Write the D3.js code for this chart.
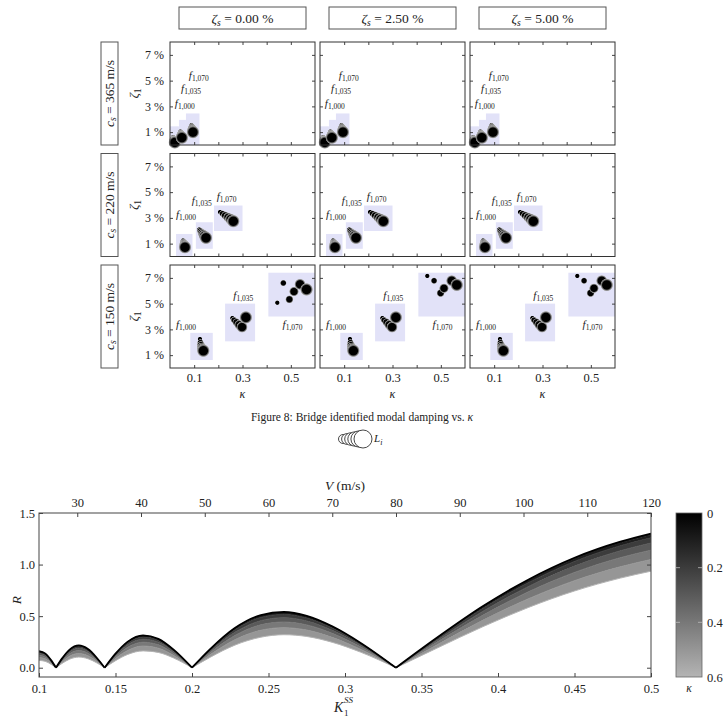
<!DOCTYPE html>
<html>
<head>
<meta charset="utf-8">
<script src="https://cdn.jsdelivr.net/npm/d3@7"></script>
<style>
  body { margin: 0; background: #fff; }
  svg text { font-family: "Liberation Serif", "Times New Roman", serif; fill: #222; }
</style>
</head>
<body>
<svg id="chart" width="724" height="717"></svg>
<script>
// ---- top figure: identified damping, one panel per (cs, zeta_s) ----
const dampingCols = ["0.00", "2.50", "5.00"];   // zeta_s in %
const speedRows = ["365", "220", "150"];         // cs in m/s
const freqLabels = ["1,000", "1,035", "1,070"];
const kappaMinor = [0.1, 0.2, 0.3, 0.4, 0.5];
const kappaTicks = [0.1, 0.3, 0.5];
const zetaTicks = [1, 3, 5, 7];

// bubbles: [kappa, zeta1 (%), L index]
const bubbles365 = [
  [[0.013, 0.62, 1], [0.014, 0.52, 2], [0.015, 0.44, 3], [0.016, 0.36, 4], [0.018, 0.28, 5], [0.02, 0.2, 6]],
  [[0.043, 1.05, 1], [0.044, 0.95, 2], [0.045, 0.85, 3], [0.046, 0.76, 4], [0.047, 0.66, 5], [0.049, 0.57, 6]],
  [[0.089, 1.55, 1], [0.09, 1.44, 2], [0.091, 1.34, 3], [0.092, 1.23, 4], [0.093, 1.12, 5], [0.095, 1.0, 6]]
];
const bubbles220 = [
  [[0.054, 1.25, 1], [0.055, 1.15, 2], [0.057, 1.04, 3], [0.058, 0.94, 4], [0.06, 0.83, 5], [0.062, 0.72, 6]],
  [[0.121, 2.1, 1], [0.125, 2.0, 2], [0.13, 1.87, 3], [0.136, 1.74, 4], [0.142, 1.6, 5], [0.149, 1.45, 6]],
  [[0.207, 3.45, 1], [0.217, 3.33, 2], [0.228, 3.19, 3], [0.24, 3.04, 4], [0.251, 2.9, 5], [0.262, 2.74, 6]]
];
const bubbles150 = [
  [[0.124, 2.25, 1], [0.126, 1.98, 2], [0.128, 1.78, 3], [0.131, 1.6, 4], [0.134, 1.45, 5], [0.138, 1.34, 6]],
  [[0.258, 3.88, 1], [0.265, 3.72, 2], [0.275, 3.55, 3], [0.286, 3.36, 4], [0.298, 3.18, 5], [0.314, 3.93, 6]],
  [[0.444, 5.07, 1], [0.469, 6.6, 2], [0.494, 5.33, 3], [0.513, 5.94, 4], [0.538, 6.5, 5], [0.565, 6.1, 6]]
];
// f1,070 at cs = 150 m/s for zeta_s = 2.5 % and 5 %
const bubbles150Damped = [[0.444, 7.15, 1], [0.472, 6.78, 2], [0.499, 5.82, 3], [0.513, 6.19, 4], [0.545, 6.78, 5], [0.566, 6.45, 6]];

// shaded boxes: [kappa0, kappa1, zeta0, zeta1]
const boxes365 = [[-0.05, 0.037, -1, 1.45], [0.037, 0.066, -1, 1.95], [0.066, 0.122, -1, 2.45]];
const boxes220 = [[0.025, 0.093, -1, 1.75], [0.107, 0.177, 0.6, 2.66], [0.182, 0.3, 1.98, 3.96]];
const boxes150 = [[0.084, 0.177, 0.62, 2.73], [0.228, 0.352, 2.07, 5.0], [0.407, 0.65, 4.0, 7.4]];

// frequency label anchors: [kappa, zeta1]
const labels365 = [[0.02, 3.2], [0.046, 4.35], [0.078, 5.36]];
const labels220 = [[0.025, 3.26], [0.09, 4.3], [0.193, 4.6]];
const labels150 = [[0.025, 3.34], [0.262, 5.6], [0.466, 3.34]];

const legendSizes = [1, 2, 3, 4, 5, 6];

// ---- bottom figure: R vs K1^SS for several kappa ----
const kSS = [0.100, 0.104, 0.108, 0.1111, 0.115, 0.120, 0.126, 0.132, 0.138, 0.1429,
             0.150, 0.158, 0.168, 0.178, 0.188, 0.200, 0.212, 0.228, 0.245, 0.260,
             0.275, 0.292, 0.310, 0.3333, 0.36, 0.39, 0.42, 0.45, 0.48, 0.50];
const kappaLevels = [0, 0.1, 0.2, 0.3, 0.4, 0.5, 0.6];
const rKappa00 = [0.160, 0.139, 0.071, 0, 0.088, 0.176, 0.216, 0.181, 0.092, 0, 0.136, 0.253, 0.314, 0.280, 0.175, 0, 0.183, 0.385, 0.510, 0.540, 0.503, 0.399, 0.243, 0, 0.290, 0.595, 0.856, 1.066, 1.222, 1.300];
const rKappa01 = [0.157, 0.137, 0.070, 0, 0.087, 0.173, 0.213, 0.178, 0.091, 0, 0.134, 0.249, 0.310, 0.276, 0.173, 0, 0.181, 0.380, 0.503, 0.534, 0.497, 0.394, 0.240, 0, 0.287, 0.589, 0.847, 1.056, 1.211, 1.290];
const rKappa02 = [0.150, 0.131, 0.067, 0, 0.083, 0.166, 0.203, 0.171, 0.087, 0, 0.129, 0.239, 0.297, 0.265, 0.166, 0, 0.174, 0.367, 0.487, 0.516, 0.481, 0.382, 0.233, 0, 0.279, 0.573, 0.826, 1.031, 1.183, 1.260];
const rKappa03 = [0.138, 0.120, 0.061, 0, 0.076, 0.153, 0.188, 0.158, 0.080, 0, 0.119, 0.222, 0.276, 0.247, 0.155, 0, 0.163, 0.343, 0.456, 0.485, 0.453, 0.360, 0.220, 0, 0.265, 0.546, 0.788, 0.985, 1.134, 1.209];
const rKappa04 = [0.121, 0.105, 0.054, 0, 0.067, 0.135, 0.166, 0.140, 0.071, 0, 0.106, 0.198, 0.247, 0.222, 0.139, 0, 0.147, 0.312, 0.416, 0.443, 0.415, 0.331, 0.203, 0, 0.246, 0.508, 0.737, 0.924, 1.067, 1.140];
const rKappa05 = [0.099, 0.086, 0.044, 0, 0.055, 0.112, 0.138, 0.116, 0.060, 0, 0.089, 0.167, 0.210, 0.189, 0.119, 0, 0.127, 0.271, 0.363, 0.388, 0.365, 0.292, 0.180, 0, 0.220, 0.459, 0.669, 0.844, 0.979, 1.049];
const rKappa06 = [0.071, 0.062, 0.032, 0, 0.041, 0.083, 0.103, 0.087, 0.045, 0, 0.068, 0.129, 0.163, 0.148, 0.094, 0, 0.102, 0.219, 0.296, 0.320, 0.303, 0.245, 0.152, 0, 0.189, 0.397, 0.585, 0.744, 0.869, 0.936];
const kTicks = [0.1, 0.15, 0.2, 0.25, 0.3, 0.35, 0.4, 0.45, 0.5];
const vTicks = [30, 40, 50, 60, 70, 80, 90, 100, 110, 120];
const rTicks = [0, 0.5, 1, 1.5];
const colorbarTicks = [0, 0.2, 0.4, 0.6];

const rowBubbles = [bubbles365, bubbles220, bubbles150];
const rowBoxes = [boxes365, boxes220, boxes150];
const rowLabels = [labels365, labels220, labels150];

const svg = d3.select("#chart");
const defs = svg.append("defs");

// bubble look: black core with soft grey rim
const grad = defs.append("radialGradient").attr("id", "bubble");
[["0%", "#000", 1], ["64%", "#000", 1], ["76%", "#5a5a5a", 1], ["90%", "#aaaaaa", 0.85], ["100%", "#cccccc", 0]]
  .forEach(([o, c, op]) => grad.append("stop").attr("offset", o).attr("stop-color", c).attr("stop-opacity", op));

const bubbleR = d3.scaleLinear().domain([1, 6]).range([2.6, 6.6]);

const colLeft = [170, 320, 470];
const rowTop = [42, 153.5, 265];
const panelW = 145, panelH = 103;

function styleAxis(g, size) {
  g.attr("font-size", size).attr("color", "#444");
  g.select(".domain").remove();
}

speedRows.forEach((cs, ri) => {
  const y0 = rowTop[ri];
  const mid = y0 + panelH / 2;

  // row label box
  svg.append("rect").attr("x", 101).attr("y", y0).attr("width", 17).attr("height", panelH)
    .attr("fill", "#fff").attr("stroke", "#555").attr("stroke-width", 1);
  const rl = svg.append("text").attr("transform", `translate(113.5,${mid}) rotate(-90)`)
    .attr("text-anchor", "middle").attr("font-size", 13.5);
  rl.append("tspan").attr("font-style", "italic").text("c");
  rl.append("tspan").attr("font-style", "italic").attr("font-size", 9.5).attr("dy", 2.5).text("s");
  rl.append("tspan").attr("dy", -2.5).text(` = ${cs} m/s`);

  // zeta1 axis title
  const zl = svg.append("text").attr("transform", `translate(138,${mid}) rotate(-90)`)
    .attr("text-anchor", "middle").attr("font-size", 13.5);
  zl.append("tspan").attr("font-style", "italic").text("ζ");
  zl.append("tspan").attr("font-size", 9.5).attr("dy", 3).text("1");

  dampingCols.forEach((zs, ci) => {
    const x0 = colLeft[ci];
    const kx = d3.scaleLinear().domain([0, 0.6]).range([x0, x0 + panelW]);
    const zy = d3.scaleLinear().domain([0, 8]).range([y0 + panelH, y0]);
    const g = svg.append("g");

    const cid = `clip${ri}${ci}`;
    defs.append("clipPath").attr("id", cid).append("rect")
      .attr("x", x0).attr("y", y0).attr("width", panelW).attr("height", panelH);

    g.append("g").attr("clip-path", `url(#${cid})`)
      .selectAll("rect").data(rowBoxes[ri]).join("rect")
      .attr("x", d => kx(d[0])).attr("y", d => zy(d[3]))
      .attr("width", d => kx(d[1]) - kx(d[0])).attr("height", d => zy(d[2]) - zy(d[3]))
      .attr("fill", "#e2e2f8");

    const groups = (ri === 2 && ci > 0)
      ? [rowBubbles[2][0], rowBubbles[2][1], bubbles150Damped]
      : rowBubbles[ri];

    groups.forEach(grp => {
      g.append("g").selectAll("circle").data(grp).join("circle")
        .attr("cx", d => kx(d[0])).attr("cy", d => zy(d[1]))
        .attr("r", d => bubbleR(d[2]))
        .attr("fill", "url(#bubble)");
    });

    rowLabels[ri].forEach((p, gi) => {
      const t = g.append("text").attr("x", kx(p[0])).attr("y", zy(p[1]) + 3).attr("font-size", 11);
      t.append("tspan").attr("font-style", "italic").text("f");
      t.append("tspan").attr("font-size", 7.5).attr("dy", 2).text(freqLabels[gi]);
    });

    // axes, ticks pointing inward on all four sides
    g.append("g").attr("transform", `translate(0,${y0 + panelH})`)
      .call(d3.axisBottom(kx).tickValues(kappaMinor).tickSize(-3).tickPadding(5)
        .tickFormat(d => (ri === 2 && kappaTicks.includes(d)) ? d3.format(".1f")(d) : ""))
      .call(a => styleAxis(a, 12.5));
    g.append("g").attr("transform", `translate(0,${y0})`)
      .call(d3.axisTop(kx).tickValues(kappaMinor).tickSize(-3).tickFormat(""))
      .call(a => styleAxis(a, 11));
    g.append("g").attr("transform", `translate(${x0},0)`)
      .call(d3.axisLeft(zy).tickValues(zetaTicks).tickSize(-3).tickPadding(6)
        .tickFormat(d => ci === 0 ? d + " %" : ""))
      .call(a => styleAxis(a, 12));
    g.append("g").attr("transform", `translate(${x0 + panelW},0)`)
      .call(d3.axisRight(zy).tickValues(zetaTicks).tickSize(-3).tickFormat(""))
      .call(a => styleAxis(a, 11));

    g.append("rect").attr("x", x0).attr("y", y0).attr("width", panelW).attr("height", panelH)
      .attr("fill", "none").attr("stroke", "#333").attr("stroke-width", 1);

    if (ri === 0) {
      svg.append("rect").attr("x", x0 + 9).attr("y", 7).attr("width", panelW - 18).attr("height", 22)
        .attr("fill", "#fff").attr("stroke", "#555");
      const h = svg.append("text").attr("x", x0 + panelW / 2).attr("y", 23)
        .attr("text-anchor", "middle").attr("font-size", 13.5);
      h.append("tspan").attr("font-style", "italic").text("ζ");
      h.append("tspan").attr("font-style", "italic").attr("font-size", 9.5).attr("dy", 2.5).text("s");
      h.append("tspan").attr("dy", -2.5).text(` = ${zs} %`);
    }
    if (ri === 2) {
      svg.append("text").attr("x", x0 + panelW / 2).attr("y", 398).attr("text-anchor", "middle")
        .attr("font-size", 12).attr("font-style", "italic").text("κ");
    }
  });
});

// caption and size legend
const cap = svg.append("text").attr("x", 362).attr("y", 421).attr("text-anchor", "middle").attr("font-size", 11.5);
cap.append("tspan").text("Figure 8: Bridge identified modal damping vs. ");
cap.append("tspan").attr("font-style", "italic").text("κ");

const legR = d3.scaleLinear().domain([1, 6]).range([4.5, 9]);
const legX = d3.scaleLinear().domain([1, 6]).range([343, 363]);
svg.append("g").selectAll("circle").data(legendSizes).join("circle")
  .attr("cx", d => legX(d)).attr("cy", 439).attr("r", d => legR(d))
  .attr("fill", "#fff").attr("stroke", "#333").attr("stroke-width", 0.9);
const lt = svg.append("text").attr("x", 374).attr("y", 442).attr("font-size", 11);
lt.append("tspan").attr("font-style", "italic").text("L");
lt.append("tspan").attr("font-style", "italic").attr("font-size", 8).attr("dy", 2.5).text("i");

// ---- bottom chart ----
const plotL = 39, plotR = 651, plotT = 513, plotB = 677;
const kScale = d3.scaleLinear().domain([0.1, 0.5]).range([plotL, plotR]);
const vScale = d3.scaleLinear().domain([24, 120]).range([plotL, plotR]);
const yR = d3.scaleLinear().domain([-0.09, 1.5]).range([plotB, plotT]);
const kappaColor = d3.scaleLinear().domain([0, 0.6]).range(["#000000", "#b4b4b4"]);
const curves = [rKappa00, rKappa01, rKappa02, rKappa03, rKappa04, rKappa05, rKappa06];

defs.append("clipPath").attr("id", "plotClip").append("rect")
  .attr("x", plotL).attr("y", plotT).attr("width", plotR - plotL).attr("height", plotB - plotT);
const plot = svg.append("g").attr("clip-path", "url(#plotClip)");

// split the curves at the zeros so each arch meets the axis in a cusp
const breaks = [0];
rKappa00.forEach((v, i) => { if (v === 0) breaks.push(i); });
breaks.push(kSS.length - 1);

d3.pairs(breaks).forEach(([a, b]) => {
  const idx = d3.range(a, b + 1);
  for (let j = 0; j < curves.length - 1; j++) {
    const area = d3.area()
      .x(i => kScale(kSS[i]))
      .y0(i => yR(curves[j + 1][i]))
      .y1(i => yR(curves[j][i]))
      .curve(d3.curveMonotoneX);
    plot.append("path").attr("d", area(idx)).attr("fill", kappaColor(kappaLevels[j]));
  }
  for (let j = curves.length - 1; j >= 0; j--) {
    const line = d3.line().x(i => kScale(kSS[i])).y(i => yR(curves[j][i])).curve(d3.curveMonotoneX);
    plot.append("path").attr("d", line(idx)).attr("fill", "none")
      .attr("stroke", kappaColor(kappaLevels[j])).attr("stroke-width", j === 0 ? 1.8 : 1);
  }
});

svg.append("g").attr("transform", `translate(0,${plotB})`)
  .call(d3.axisBottom(kScale).tickValues(kTicks).tickSize(-4).tickPadding(7).tickFormat(d3.format("")))
  .call(a => styleAxis(a, 12.5));
svg.append("g").attr("transform", `translate(0,${plotT})`)
  .call(d3.axisTop(vScale).tickValues(vTicks).tickSize(-4).tickPadding(6))
  .call(a => styleAxis(a, 12.5));
svg.append("g").attr("transform", `translate(${plotL},0)`)
  .call(d3.axisLeft(yR).tickValues(rTicks).tickSize(-4).tickPadding(4).tickFormat(d3.format(".1f")))
  .call(a => styleAxis(a, 12.5));
svg.append("g").attr("transform", `translate(${plotR},0)`)
  .call(d3.axisRight(yR).tickValues(rTicks).tickSize(-4).tickFormat(""))
  .call(a => styleAxis(a, 12));
svg.append("rect").attr("x", plotL).attr("y", plotT).attr("width", plotR - plotL).attr("height", plotB - plotT)
  .attr("fill", "none").attr("stroke", "#444").attr("stroke-width", 1);

const vt = svg.append("text").attr("x", 345).attr("y", 490).attr("text-anchor", "middle").attr("font-size", 13.5);
vt.append("tspan").attr("font-style", "italic").text("V");
vt.append("tspan").text(" (m/s)");

svg.append("text").attr("x", 334).attr("y", 712).attr("font-size", 14).attr("font-style", "italic").text("K");
svg.append("text").attr("x", 344).attr("y", 703).attr("font-size", 9).attr("font-style", "italic").text("SS");
svg.append("text").attr("x", 344).attr("y", 716).attr("font-size", 9).text("1");

svg.append("text").attr("transform", "translate(21,600) rotate(-90)").attr("text-anchor", "middle")
  .attr("font-size", 13.5).attr("font-style", "italic").text("R");

// colour bar
const cbX = 676, cbW = 26;
const cbScale = d3.scaleLinear().domain([0, 0.6]).range([plotT, plotB]);
const lg = defs.append("linearGradient").attr("id", "cbGrad").attr("x1", 0).attr("y1", 0).attr("x2", 0).attr("y2", 1);
lg.append("stop").attr("offset", "0%").attr("stop-color", kappaColor(0));
lg.append("stop").attr("offset", "100%").attr("stop-color", kappaColor(0.6));
svg.append("rect").attr("x", cbX).attr("y", plotT).attr("width", cbW).attr("height", plotB - plotT)
  .attr("fill", "url(#cbGrad)").attr("stroke", "#666").attr("stroke-width", 0.8);
svg.append("g").selectAll("line").data([0.2, 0.4]).join("line")
  .attr("x1", cbX).attr("x2", cbX + 4).attr("y1", d => cbScale(d)).attr("y2", d => cbScale(d))
  .attr("stroke", "#bbb").attr("stroke-width", 0.8);
svg.append("g").selectAll("line").data([0.2, 0.4]).join("line")
  .attr("x1", cbX + cbW - 4).attr("x2", cbX + cbW).attr("y1", d => cbScale(d)).attr("y2", d => cbScale(d))
  .attr("stroke", "#bbb").attr("stroke-width", 0.8);
svg.append("g").attr("transform", `translate(${cbX + cbW},0)`)
  .call(d3.axisRight(cbScale).tickValues(colorbarTicks).tickSize(0).tickPadding(5).tickFormat(d3.format("")))
  .call(a => styleAxis(a, 12.5));
svg.append("text").attr("x", cbX + cbW / 2).attr("y", 692).attr("text-anchor", "middle")
  .attr("font-size", 11.5).attr("font-style", "italic").text("κ");
</script>
</body>
</html>
